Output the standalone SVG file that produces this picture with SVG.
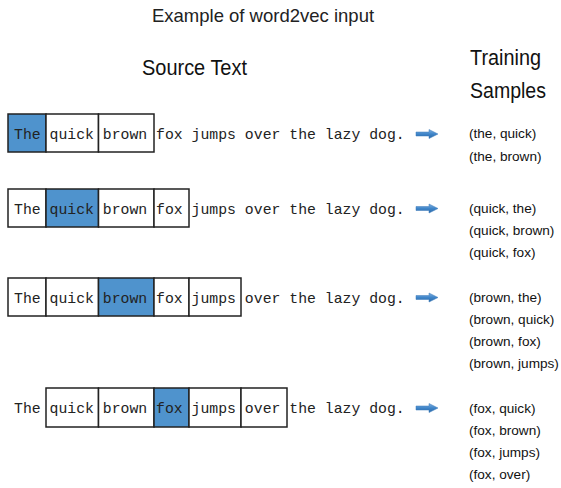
<svg xmlns="http://www.w3.org/2000/svg" width="561" height="488" viewBox="0 0 561 488">
<defs>
<linearGradient id="ag" x1="0" y1="0" x2="0" y2="1">
<stop offset="0" stop-color="#7fb0e0"/>
<stop offset="0.5" stop-color="#3f85c9"/>
<stop offset="1" stop-color="#2c6aa8"/>
</linearGradient>
<path id="arr" d="M0,-2 L13,-2 L13,-4.5 L22,0 L13,4.5 L13,2 L0,2 Z" fill="url(#ag)" stroke="#3a78b8" stroke-width="0.5"/>
</defs>
<style>
.cell{fill:#fff;stroke:#222;stroke-width:1.5}
.hl{fill:#4f93cd;stroke:#222;stroke-width:1.5}
.mono{font-family:"Courier New","Liberation Mono",monospace;font-size:14.8px;fill:#222}
.samp{font-family:"Liberation Sans",Arial,sans-serif;font-size:13.6px;fill:#111}
.head{font-family:"Liberation Sans",Arial,sans-serif;font-size:22px;fill:#111}
.title{font-family:"Liberation Sans",Arial,sans-serif;font-size:18.5px;fill:#222}
</style>
<rect width="561" height="488" fill="#fff"/>
<g id="title"><text class="title" x="263" y="22" text-anchor="middle">Example of word2vec input</text></g>
<g id="header-source"><text class="head" x="142" y="75" textLength="105" lengthAdjust="spacingAndGlyphs">Source Text</text></g>
<g id="header-samples">
<text class="head" x="470" y="65" textLength="71" lengthAdjust="spacingAndGlyphs">Training</text>
<text class="head" x="470" y="98" textLength="76" lengthAdjust="spacingAndGlyphs">Samples</text>
</g>
<g id="row1">
<rect class="hl" x="8" y="114" width="38" height="38"/>
<rect class="cell" x="46" y="114" width="52.5" height="38"/>
<rect class="cell" x="98.5" y="114" width="55.5" height="38"/>
<text class="mono" x="14" y="138.5">The quick brown fox jumps over the lazy dog.</text>
</g>
<g id="row2">
<rect class="cell" x="8" y="189" width="38" height="38"/>
<rect class="hl" x="46" y="189" width="52.5" height="38"/>
<rect class="cell" x="98.5" y="189" width="55.5" height="38"/>
<rect class="cell" x="154" y="189" width="35" height="38"/>
<text class="mono" x="14" y="213.5">The quick brown fox jumps over the lazy dog.</text>
</g>
<g id="row3">
<rect class="cell" x="8" y="278" width="38" height="38"/>
<rect class="cell" x="46" y="278" width="52.5" height="38"/>
<rect class="hl" x="98.5" y="278" width="55.5" height="38"/>
<rect class="cell" x="154" y="278" width="35" height="38"/>
<rect class="cell" x="189" y="278" width="52" height="38"/>
<text class="mono" x="14" y="302.5">The quick brown fox jumps over the lazy dog.</text>
</g>
<g id="row4">
<rect class="cell" x="46" y="388" width="52.5" height="39"/>
<rect class="cell" x="98.5" y="388" width="55.5" height="39"/>
<rect class="hl" x="154" y="388" width="35" height="39"/>
<rect class="cell" x="189" y="388" width="52" height="39"/>
<rect class="cell" x="241" y="388" width="46" height="39"/>
<text class="mono" x="14" y="413">The quick brown fox jumps over the lazy dog.</text>
</g>
<g id="connectors">
<use href="#arr" x="416" y="134"/>
<use href="#arr" x="416" y="208.5"/>
<use href="#arr" x="416" y="297.5"/>
<use href="#arr" x="416" y="408"/>
</g>
<g id="samples1">
<text class="samp" x="469" y="138">(the, quick)</text>
<text class="samp" x="469" y="161">(the, brown)</text>
</g>
<g id="samples2">
<text class="samp" x="469" y="213">(quick, the)</text>
<text class="samp" x="469" y="235">(quick, brown)</text>
<text class="samp" x="469" y="257">(quick, fox)</text>
</g>
<g id="samples3">
<text class="samp" x="469" y="302">(brown, the)</text>
<text class="samp" x="469" y="324">(brown, quick)</text>
<text class="samp" x="469" y="346">(brown, fox)</text>
<text class="samp" x="469" y="368">(brown, jumps)</text>
</g>
<g id="samples4">
<text class="samp" x="469" y="413">(fox, quick)</text>
<text class="samp" x="469" y="435">(fox, brown)</text>
<text class="samp" x="469" y="457">(fox, jumps)</text>
<text class="samp" x="469" y="479">(fox, over)</text>
</g>
</svg>
